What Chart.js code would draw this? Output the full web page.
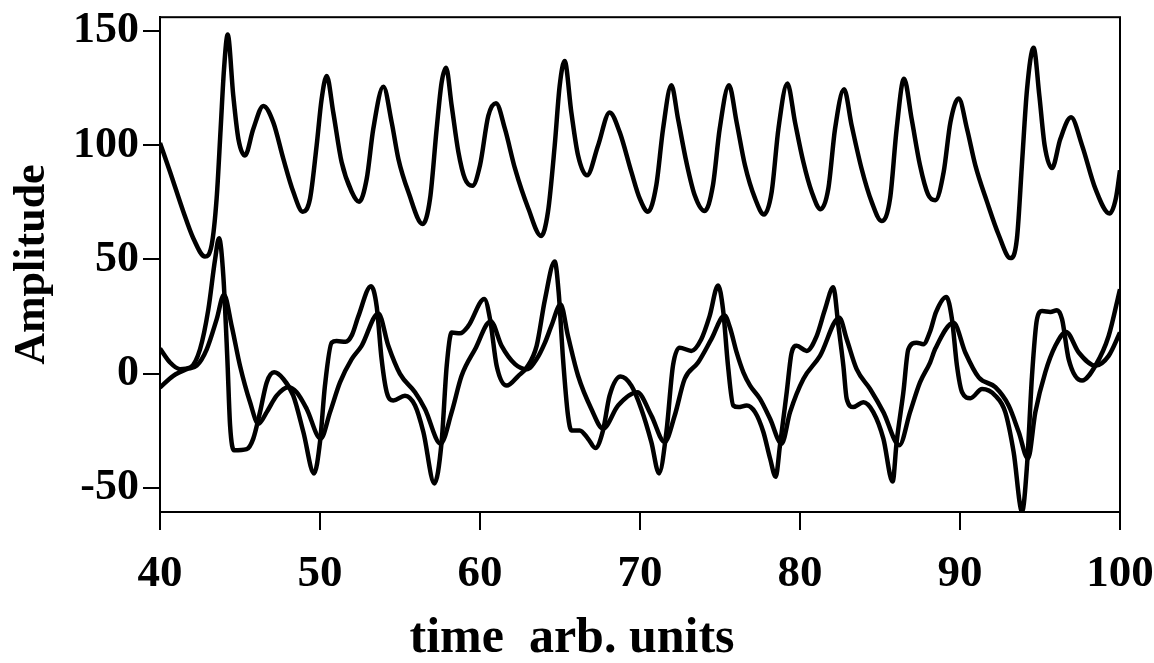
<!DOCTYPE html>
<html>
<head>
<meta charset="utf-8">
<script src="https://cdn.jsdelivr.net/npm/chart.js@4.4.1/dist/chart.umd.min.js"></script>
<style>
  body { margin: 0; background: #fff; }
  canvas { display: block; }
</style>
</head>
<body>
<canvas id="chart" width="1154" height="663"></canvas>
<script>
const xTicks = [40, 50, 60, 70, 80, 90, 100];
const yTicks = [-50, 0, 50, 100, 150];
const xLabel = "time  arb. units";
const yLabel = "Amplitude";

// upper trace
const timeUpper = [40.0, 40.63, 41.46, 42.08, 42.81, 43.23, 43.54, 43.79, 44.0, 44.23, 44.58, 44.9, 45.31, 45.83, 46.46, 47.08, 47.71, 48.33, 48.92, 49.38, 49.79, 50.1, 50.42, 50.83, 51.35, 51.98, 52.44, 52.92, 53.33, 53.96, 54.48, 54.9, 55.52, 56.42, 56.88, 57.29, 57.6, 57.88, 58.23, 58.65, 59.06, 59.52, 60.0, 60.52, 61.0, 61.56, 62.19, 63.02, 63.82, 64.25, 64.67, 64.98, 65.29, 65.71, 66.13, 66.69, 67.38, 68.1, 68.73, 69.46, 69.98, 70.5, 71.02, 71.44, 71.96, 72.38, 72.9, 73.42, 74.04, 74.56, 74.98, 75.56, 76.04, 76.56, 77.19, 77.75, 78.23, 78.65, 79.21, 79.69, 80.21, 80.73, 81.29, 81.77, 82.19, 82.75, 83.23, 83.85, 84.48, 85.1, 85.63, 86.04, 86.5, 86.98, 87.5, 88.0, 88.46, 88.98, 89.4, 89.92, 90.44, 90.96, 91.69, 92.42, 93.15, 93.56, 93.88, 94.19, 94.6, 94.96, 95.29, 95.75, 96.27, 96.94, 97.63, 98.46, 99.35, 99.75, 100.0];
const ampUpper = [101, 88.3, 70.9, 59.3, 51.3, 56.4, 76.7, 107.1, 133.2, 148.4, 121.6, 102.7, 95.5, 107.1, 117.2, 110, 94, 79.6, 70.9, 76.7, 99.9, 120.1, 130.3, 114.3, 92.6, 79.6, 75.2, 85.3, 107.1, 125.6, 110, 94, 79.6, 65.5, 76.7, 107.1, 127.4, 133.9, 117.2, 97, 85.3, 82.2, 91.2, 112.9, 118.4, 107.1, 89.7, 72.3, 60.3, 70.9, 99.9, 126, 136.8, 114.3, 95.5, 86.8, 99.9, 114.3, 105.7, 88.3, 76.7, 70.9, 82.5, 107.1, 126.2, 111.4, 92.6, 78.1, 71.2, 82.5, 107.1, 126.2, 110, 91.2, 76.7, 69.7, 79.6, 107.1, 127, 110, 92.6, 79.6, 72, 81, 107.1, 124.5, 108.6, 89.7, 75.2, 66.8, 76.7, 107.1, 129.1, 111.4, 91.2, 78.5, 75.9, 88.3, 110, 120.4, 107.1, 91.2, 75.2, 60.7, 50.6, 59.3, 92.6, 124.5, 142.6, 121.6, 99.9, 90, 102.7, 112.2, 99.9, 81, 70.1, 77, 89];

// lower trace with the sharp swings
const timeSharp = [40.0, 40.63, 41.25, 41.88, 42.5, 43.02, 43.44, 43.69, 43.96, 44.21, 44.38, 44.63, 45.42, 45.83, 46.25, 46.67, 47.13, 47.71, 48.33, 48.96, 49.63, 50.0, 50.31, 50.73, 51.04, 51.6, 52.0, 52.4, 53.19, 53.54, 53.85, 54.17, 54.58, 55.31, 55.94, 56.46, 57.15, 57.6, 57.92, 58.23, 58.75, 59.27, 60.27, 60.63, 61.04, 61.67, 62.4, 62.92, 63.54, 64.06, 64.67, 64.92, 65.19, 65.5, 65.71, 66.23, 66.75, 67.21, 67.69, 68.1, 68.79, 69.46, 70.08, 70.71, 71.19, 71.65, 72.06, 72.48, 73.21, 73.83, 74.35, 74.88, 75.19, 75.5, 75.83, 76.15, 76.67, 77.19, 77.71, 78.13, 78.48, 78.75, 79.17, 79.48, 79.79, 80.42, 81.04, 81.56, 82.08, 82.4, 82.71, 82.92, 83.33, 83.96, 84.58, 85.21, 85.79, 86.04, 86.46, 86.77, 87.29, 87.71, 88.13, 88.5, 89.15, 89.5, 89.81, 90.13, 90.65, 91.38, 92.21, 92.83, 93.35, 93.88, 94.19, 94.5, 94.81, 95.13, 95.65, 96.06, 96.38, 96.79, 97.63, 98.46, 99.29, 100.0];
const ampSharp = [11, 4.9, 2, 2.7, 10.7, 28.1, 49.9, 59.3, 42.6, 6.4, -22.6, -33.5, -33, -28.4, -16.8, -3.8, 0.6, -2.3, -9.6, -25.5, -43.6, -29.9, -5.2, 13.6, 14.3, 14, 17, 25.2, 38.3, 29.6, 6.4, -8.1, -11.7, -9.6, -13.9, -25.5, -48, -29.9, 3.5, 18, 17.7, 20.9, 32.7, 23.8, 3.5, -5.2, -0.9, 2.7, 12.2, 32.5, 49.1, 35.3, 6.4, -18.3, -24.8, -24.8, -28.4, -32.5, -24.8, -9.6, -1.2, -5.2, -15.4, -29.9, -43.6, -25.5, 3.5, 11.4, 10, 15.1, 25.2, 38.6, 28.1, 3.5, -13.9, -14.6, -13.9, -16.8, -25.5, -37.1, -45.1, -31.3, -8.1, 9.3, 12.2, 10, 16.5, 28.1, 37.8, 20.9, 3.5, -11, -14.6, -12.5, -16.8, -28.4, -47.2, -29.9, -8.1, 10.7, 13.6, 12.9, 18.5, 27, 33.6, 23.8, 3.5, -8.1, -10.7, -6.7, -9.6, -16.8, -34.2, -60.3, -40, -0.9, 23.8, 27.4, 27, 27.8, 23.8, 6.4, -3, 3.5, 16.5, 37];

// lower trace, smoother
const timeSmooth = [40.0, 40.83, 41.67, 42.29, 42.92, 43.54, 44.0, 44.48, 45.0, 45.63, 46.15, 46.67, 47.29, 48.02, 48.54, 49.17, 50.04, 50.63, 51.25, 51.98, 52.6, 53.65, 54.27, 55.0, 55.94, 56.56, 57.54, 58.23, 58.85, 59.69, 60.67, 61.35, 62.19, 62.92, 63.54, 64.06, 64.46, 65.04, 65.5, 66.13, 66.96, 67.69, 68.63, 69.83, 70.71, 71.54, 72.17, 72.79, 73.63, 74.46, 75.29, 75.63, 76.04, 76.46, 76.88, 77.5, 78.13, 78.85, 79.38, 80.21, 81.25, 82.46, 82.92, 83.54, 84.38, 85.21, 86.21, 86.88, 87.5, 88.13, 88.46, 89.6, 90.33, 91.17, 92.21, 93.04, 93.67, 94.25, 94.71, 95.33, 95.96, 96.63, 97.42, 98.46, 99.29, 100.0];
const ampSmooth = [-6, -0.9, 2, 3.5, 10.7, 23.8, 34.6, 20.9, 3.5, -12.5, -21.9, -16.8, -9.6, -5.9, -8.1, -15.4, -28.4, -16.8, -3.8, 6.4, 12.2, 26.4, 12.2, -0.1, -8.1, -15.4, -30.6, -16.8, -0.9, 10.7, 23, 12.2, 4.2, 2, 6.4, 13.6, 20.9, 30.3, 16.5, -0.9, -15.4, -24, -13.9, -8.1, -18.3, -29.9, -18.3, -2.3, 4.9, 15.1, 25.5, 20, 9.3, 0.6, -5.2, -11, -19.7, -30.6, -16.8, -2.3, 7.8, 24.5, 15.1, 2, -6.7, -16.8, -31.3, -16.8, -3.8, 4.9, 11, 22.3, 9.3, -1.6, -5.9, -13.9, -25.5, -37.1, -16.8, 0.6, 12.2, 18.3, 9.3, 3.5, 7.8, 18];

const toPoints = (xs, ys) => xs.map((x, i) => ({ x, y: ys[i] }));

const serif = "'Liberation Serif', 'Times New Roman', serif";

// box round the plot area (left and bottom come from the axes)
const frame = {
  id: "frame",
  afterDraw(c) {
    const { ctx, chartArea: a } = c;
    ctx.save();
    ctx.strokeStyle = "#000";
    ctx.lineWidth = 2;
    ctx.strokeRect(a.left, a.top, a.right - a.left, a.bottom - a.top);
    ctx.restore();
  }
};

// x axis caption sits a little left of the plot centre
const bottomCaption = {
  id: "bottomCaption",
  afterDraw(c) {
    const ctx = c.ctx;
    ctx.save();
    ctx.fillStyle = "#000";
    ctx.font = "bold 50px " + serif;
    ctx.textAlign = "center";
    ctx.textBaseline = "alphabetic";
    ctx.fillText(xLabel, 572, 652);
    ctx.restore();
  }
};

const line = (xs, ys) => ({
  data: toPoints(xs, ys),
  borderColor: "#000",
  borderWidth: 4.5,
  pointRadius: 0,
  cubicInterpolationMode: "monotone",
  fill: false
});

new Chart(document.getElementById("chart").getContext("2d"), {
  type: "line",
  data: {
    datasets: [
      line(timeUpper, ampUpper),
      line(timeSharp, ampSharp),
      line(timeSmooth, ampSmooth)
    ]
  },
  options: {
    responsive: false,
    animation: false,
    events: [],
    layout: { padding: { top: 14, right: 34, left: 0, bottom: 0 } },
    plugins: {
      legend: { display: false },
      tooltip: { enabled: false }
    },
    scales: {
      x: {
        type: "linear",
        min: 40,
        max: 100,
        afterBuildTicks: s => { s.ticks = xTicks.map(v => ({ value: v })); },
        afterFit: s => {
          s.height = 151;
          // end labels may hang past the plot edge
          s.paddingLeft = 0;
          s.paddingRight = 0;
        },
        grid: { drawOnChartArea: false, tickLength: 18, color: "#000", lineWidth: 2 },
        border: { color: "#000", width: 2 },
        ticks: {
          color: "#000",
          padding: 17,
          maxRotation: 0,
          autoSkip: false,
          font: { family: serif, size: 45, weight: "bold", lineHeight: 1.2 }
        }
      },
      y: {
        type: "linear",
        min: -60.5,
        max: 156,
        afterBuildTicks: s => { s.ticks = yTicks.map(v => ({ value: v })); },
        afterFit: s => { s.width = 160; },
        grid: { drawOnChartArea: false, tickLength: 17, color: "#000", lineWidth: 2 },
        border: { color: "#000", width: 2 },
        ticks: {
          color: "#000",
          padding: 4,
          font: { family: serif, size: 44, weight: "bold", lineHeight: 0.6 }
        },
        title: {
          display: true,
          text: yLabel,
          color: "#000",
          padding: { top: 6, bottom: 0 },
          font: { family: serif, size: 44, weight: "bold", lineHeight: 1.2 }
        }
      }
    }
  },
  plugins: [frame, bottomCaption]
});
</script>
</body>
</html>
